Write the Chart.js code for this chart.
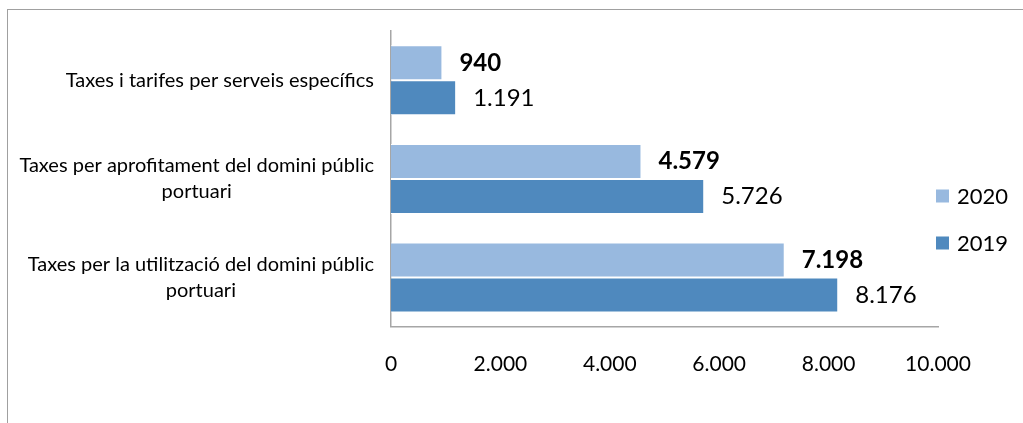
<!DOCTYPE html>
<html>
<head>
<meta charset="utf-8">
<script src="https://cdn.jsdelivr.net/npm/chart.js@4.4.1/dist/chart.umd.min.js"></script>
<style>
  html, body { margin: 0; padding: 0; background: #fff; overflow: hidden; }
  #wrap { position: relative; width: 1023px; height: 423px; }
  #frame { position: absolute; left: 7px; top: 9px; width: 1100px; height: 500px; border: 1px solid #a0a0a0; }
  canvas { position: absolute; left: 0; top: 0; }
</style>
</head>
<body>
<div id="wrap">
  <div id="frame"></div>
  <canvas id="chart" width="1023" height="423" style="width:1023px;height:423px"></canvas>
</div>
<script>
const categories = [
  ["Taxes i tarifes per serveis específics"],
  ["Taxes per aprofitament del domini públic", "portuari"],
  ["Taxes per la utilització del domini públic", "portuari"],
];
const seriesNames = ["2020", "2019"];
const values2020 = [940, 4579, 7198];
const values2019 = [1191, 5726, 8176];
const tickValues = [0, 2000, 4000, 6000, 8000, 10000];
const seriesColors = ["#98b9df", "#4f89be"];

const FONT = "Lato, 'Liberation Sans', sans-serif";

function fmt(v) {
  return String(v).replace(/\B(?=(\d{3})+(?!\d))/g, ".");
}

// category names on the left, each block right aligned, lines centered
const categoryLabels = {
  id: "categoryLabels",
  afterDraw(chart) {
    const ctx = chart.ctx;
    const yScale = chart.scales.y;
    ctx.save();
    ctx.font = "20px " + FONT;
    ctx.fillStyle = "#000";
    ctx.textAlign = "center";
    ctx.textBaseline = "middle";
    categories.forEach((lines, i) => {
      const y = yScale.getPixelForTick(i);
      const lineH = 26;
      const widest = Math.max(...lines.map((l) => ctx.measureText(l).width));
      const cx = 374 - widest / 2;
      let ly = y - ((lines.length - 1) * lineH) / 2;
      lines.forEach((l) => {
        ctx.fillText(l, cx, ly);
        ly += lineH;
      });
    });
    ctx.restore();
  },
};

// value labels at the end of each bar
const valueLabels = {
  id: "valueLabels",
  afterDatasetsDraw(chart) {
    const ctx = chart.ctx;
    ctx.save();
    ctx.fillStyle = "#000";
    ctx.textAlign = "left";
    ctx.textBaseline = "middle";
    chart.data.datasets.forEach((ds, d) => {
      ctx.font = (d === 0 ? "bold " : "") + "24px " + FONT;
      chart.getDatasetMeta(d).data.forEach((bar, i) => {
        ctx.fillText(fmt(ds.data[i]), bar.x + 17, bar.y);
      });
    });
    ctx.restore();
  },
};

const sideLegend = {
  id: "sideLegend",
  afterDraw(chart) {
    const ctx = chart.ctx;
    ctx.save();
    ctx.font = "22px " + FONT;
    ctx.textAlign = "left";
    ctx.textBaseline = "middle";
    chart.data.datasets.forEach((ds, d) => {
      const y = 196 + d * 47;
      ctx.fillStyle = ds.backgroundColor;
      ctx.fillRect(936, y - 6.5, 13, 13);
      ctx.fillStyle = "#000";
      ctx.fillText(ds.label, 957, y + 1);
    });
    ctx.restore();
  },
};

new Chart(document.getElementById("chart"), {
  type: "bar",
  data: {
    labels: categories.map((c) => c.join(" ")),
    datasets: [
      {
        label: seriesNames[0],
        data: values2020,
        backgroundColor: seriesColors[0],
        borderColor: "#ffffff",
        borderWidth: 1,
        categoryPercentage: 0.71,
        barPercentage: 1,
      },
      {
        label: seriesNames[1],
        data: values2019,
        backgroundColor: seriesColors[1],
        borderColor: "#ffffff",
        borderWidth: 1,
        categoryPercentage: 0.71,
        barPercentage: 1,
      },
    ],
  },
  options: {
    indexAxis: "y",
    responsive: false,
    animation: false,
    devicePixelRatio: 1,
    layout: { padding: { top: 31, right: 85, bottom: 21, left: 0 } },
    plugins: {
      legend: { display: false },
      tooltip: { enabled: false },
    },
    scales: {
      x: {
        min: tickValues[0],
        max: tickValues[tickValues.length - 1],
        afterBuildTicks: (s) => {
          s.ticks = tickValues.map((v) => ({ value: v }));
        },
        ticks: {
          callback: (v) => fmt(v),
          font: { family: FONT, size: 21 },
          color: "#000",
          padding: 25,
          maxRotation: 0,
        },
        grid: { display: false, drawTicks: false },
        border: { color: "#a6a6a6", width: 1.5 },
      },
      y: {
        ticks: { display: false },
        grid: { display: false, drawTicks: false },
        border: { color: "#a6a6a6", width: 1.5 },
        afterFit: (s) => {
          s.width = 391;
        },
      },
    },
  },
  plugins: [categoryLabels, valueLabels, sideLegend],
});
</script>
</body>
</html>
